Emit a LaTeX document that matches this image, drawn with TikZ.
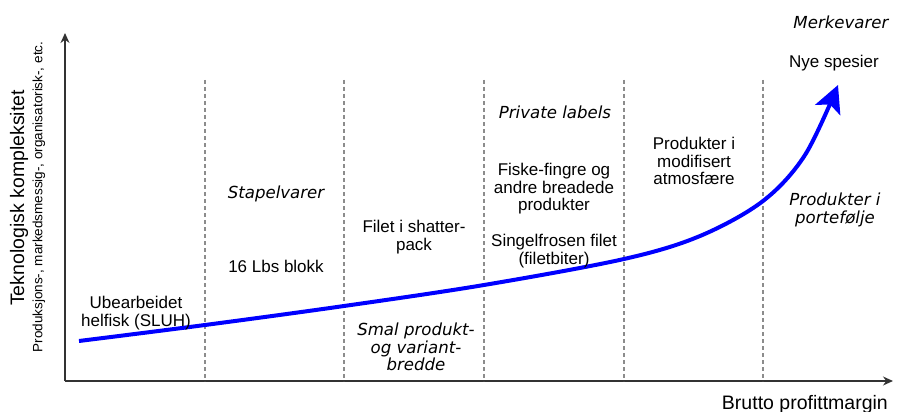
\documentclass[tikz,border=0pt]{standalone}
\usepackage{fontspec}
\setmainfont{Liberation Sans}
\newfontfamily\handfont{DejaVu Sans}
\usetikzlibrary{arrows.meta}
\definecolor{axisgray}{HTML}{333333}
\definecolor{dashgray}{HTML}{8C8C8C}
\definecolor{curveblue}{HTML}{0000FF}
\begin{document}
\begin{tikzpicture}[x=1pt,y=-1pt,
  txt/.style={align=center,inner sep=0pt,font=\fontsize{17}{17.5}\selectfont},
  hand/.style={align=center,inner sep=0pt,font=\handfont\itshape\fontsize{16.6}{17.5}\selectfont},
  axl/.style={inner sep=0pt,font=\fontsize{19.5}{22}\selectfont},
  axs/.style={inner sep=0pt,font=\fontsize{13.5}{16}\selectfont},
  axisline/.style={draw=axisgray,line width=1.4pt},
  divider/.style={draw=dashgray,line width=1.2pt,dash pattern=on 4pt off 3pt},
  growth/.style={draw=curveblue,line width=4pt,-{Stealth[length=27pt,width=27pt,inset=6pt]}}]
\useasboundingbox (0,0) rectangle (903,412);
% axes
\coordinate (O) at (65,381);
\coordinate (ytop) at (65,33);
\coordinate (xend) at (893,381);
\draw[axisline,-{Stealth[length=10pt,width=9pt]}] (O) -- (ytop);
\draw[axisline,-{Stealth[length=10pt,width=9pt]}] (O) -- (xend);
% dividers
\foreach \x/\n in {205/a,344/b,484/c,624/d,763/e}{
  \coordinate (d\n t) at (\x,80);
  \coordinate (d\n b) at (\x,381);
  \draw[divider] (d\n t) -- (d\n b);
}
% curve
\coordinate (c1) at (79,341);
\coordinate (c2) at (205,325);
\coordinate (c3) at (344,306);
\coordinate (c4) at (484,285);
\coordinate (c5) at (624,259);
\coordinate (c6) at (700,236);
\coordinate (c7) at (763,201);
\coordinate (c8) at (805,155);
\coordinate (c9) at (838,85);
\draw[growth] plot[smooth,tension=0.55] coordinates {(c1) (c2) (c3) (c4) (c5) (c6) (c7) (c8) (c9)};
% labels
\node[txt] (ub) at (136,313) {Ubearbeidet\\helfisk (SLUH)};
\node[hand] (stapel) at (276,194) {Stapelvarer};
\node[txt] (lbs) at (276,266) {16 Lbs blokk};
\node[txt] (filet) at (414,237) {Filet i shatter-\\pack};
\node[hand] (smal) at (416,347) {Smal produkt-\\og variant-\\bredde};
\node[hand] (priv) at (555,112) {Private labels};
\node[txt] (fiske) at (554,189) {Fiske-fingre og\\andre breadede\\produkter};
\node[txt] (singel) at (554,251) {Singelfrosen filet\\(filetbiter)};
\node[txt] (modif) at (694,161) {Produkter i\\modifisert\\atmosfære};
\node[hand] (portef) at (835,210) {Produkter i\\portefølje};
\node[hand] (merke) at (841,22) {Merkevarer};
\node[txt] (nye) at (834,63) {Nye spesier};
\node[axl,anchor=east] (xl) at (888,404) {Brutto profittmargin};
\node[axl,rotate=90] (yl) at (19,198) {Teknologisk kompleksitet};
\node[axs,rotate=90] (yl2) at (39,197) {Produksjons-, markedsmessig-, organisatorisk-, etc.};
\end{tikzpicture}
\end{document}
